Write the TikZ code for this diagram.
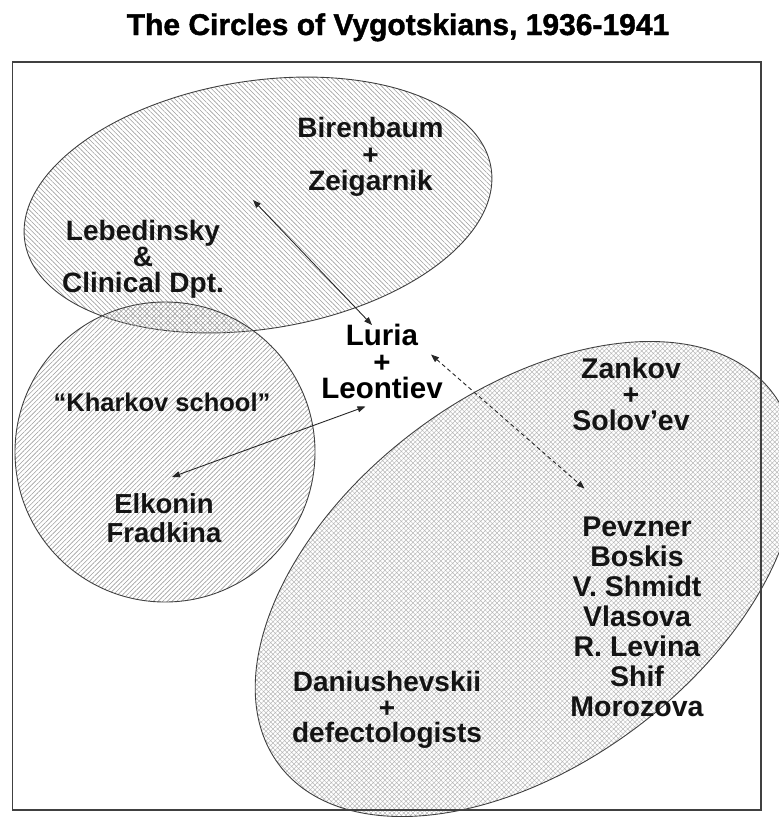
\documentclass[tikz,border=0pt]{standalone}
\usepackage{fontspec}
\setmainfont{Liberation Sans}
\newfontfamily\titlefont{Liberation Sans Bold}[FakeBold=1.3]
\usetikzlibrary{shapes.geometric,patterns.meta,arrows.meta}
\lineskiplimit=-30pt
\begin{document}
\begin{tikzpicture}[x=1pt, y=-1pt,
  every node/.style={inner sep=0pt, outer sep=0pt},
  venn/.style={draw=black!75, line width=0.9pt},
  lbl/.style={align=center, text=black!92, font=\bfseries\fontsize{28}{26.5}\selectfont},
  link/.style={draw=black!85, line width=0.9pt, {Triangle[length=8pt,width=6pt]}-{Triangle[length=8pt,width=6pt]}},
]
\useasboundingbox (0,0) rectangle (779,820);
\clip (0,0) rectangle (779,820);

% circles
\node[venn, ellipse, minimum width=472pt, minimum height=248pt, rotate=9,
  pattern={Lines[angle=-45,distance=3.3pt,line width=0.6pt]}, pattern color=black!38] (topell) at (258,205) {};
\node[venn, circle, minimum size=300pt,
  pattern={Lines[angle=45,distance=3.3pt,line width=0.6pt]}, pattern color=black!38] (leftcirc) at (165,452) {};
\node[venn, ellipse, minimum width=618pt, minimum height=370pt, rotate=37,
  pattern={Hatch[angle=45,distance=3.3pt,line width=0.5pt]}, pattern color=black!28] (botell) at (526,579) {};

% frame
\node[draw=black!75, line width=1.2pt, minimum width=748.5pt, minimum height=748pt, anchor=north west] (frame) at (12.5,62) {};

% title
\node[font=\titlefont\fontsize{30}{32}\selectfont, anchor=base] (title) at (398,35) {The Circles of Vygotskians, 1936-1941};

% labels
\node[lbl] (biren) at (370.5,157.2) {Birenbaum\\+\\Zeigarnik};
\node[lbl, font=\bfseries\fontsize{28}{26}\selectfont] (lebed) at (143,259.7) {Lebedinsky\\\&\\Clinical Dpt.};
\node[lbl, font=\bfseries\fontsize{25.5}{26}\selectfont, anchor=base] (kharkov) at (162,411.7) {“Kharkov school”};
\node[lbl, font=\bfseries\fontsize{27.5}{29}\selectfont] (elkonin) at (164,518.5) {Elkonin\\Fradkina};
\node[lbl, font=\bfseries\fontsize{29.5}{26.5}\selectfont, text=black] (luria) at (382,361.8) {Luria\\+\\Leontiev};
\node[lbl, font=\bfseries\fontsize{28.5}{26}\selectfont] (zankov) at (631,394.6) {Zankov\\+\\Solov’ev};
\node[lbl, font=\bfseries\fontsize{28.5}{30}\selectfont] (pevzner) at (637,616.8) {Pevzner\\Boskis\\V. Shmidt\\Vlasova\\R. Levina\\Shif\\Morozova};
\node[lbl, font=\bfseries\fontsize{28}{25.5}\selectfont] (daniu) at (387,710.3) {Daniushevskii\\+\\defectologists};

% connectors
\coordinate (bzend) at (253,200);
\coordinate (lurtop) at (372,325);
\coordinate (elkend) at (172,477);
\coordinate (leobot) at (365.5,406.5);
\coordinate (lurright) at (431,354.5);
\coordinate (pevend) at (584.5,488.5);
\draw[link] (lurtop) -- (bzend);
\draw[link] (leobot) -- (elkend);
\draw[link, dashed, dash pattern=on 4pt off 3pt] (lurright) -- (pevend);
\end{tikzpicture}
\end{document}
